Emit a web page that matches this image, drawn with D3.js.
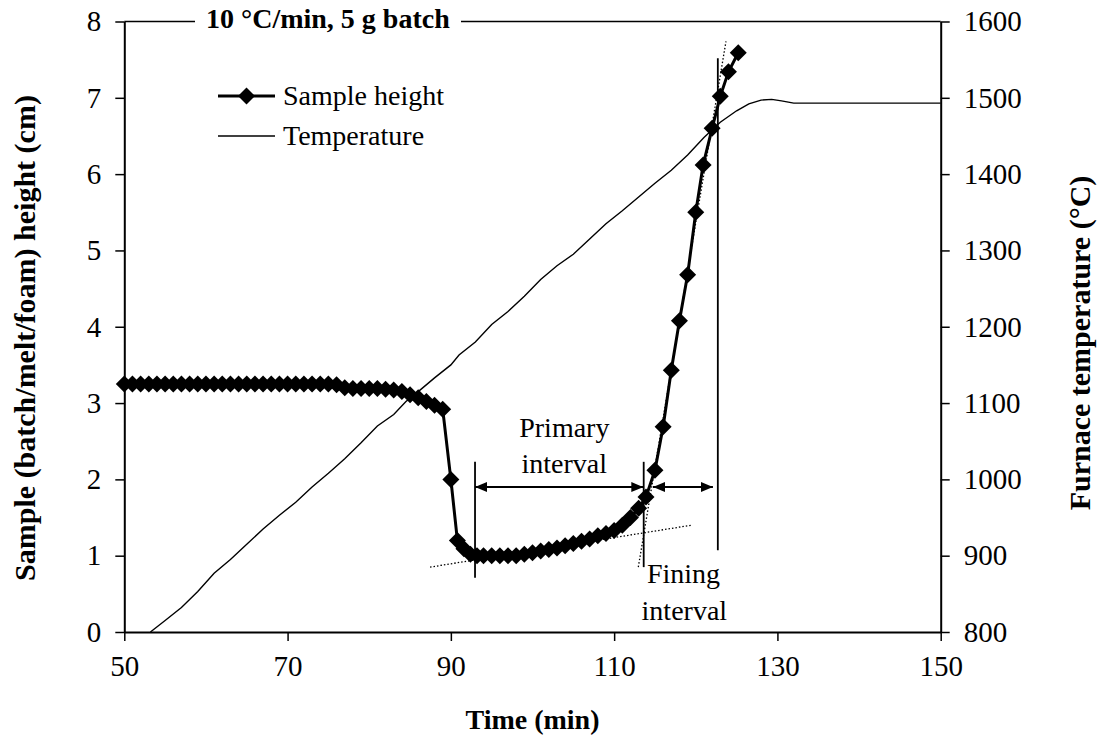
<!DOCTYPE html>
<html><head><meta charset="utf-8">
<script src="https://cdn.jsdelivr.net/npm/d3@7"></script>
<style>
body{margin:0;background:#fff}
svg{display:block}
svg text{font-family:'Times New Roman','Liberation Serif','DejaVu Serif',serif !important;fill:#000}
</style>
</head><body>
<svg id="c" width="1104" height="751"></svg>
<script>
// ---- data ----
const xTicks = [50, 70, 90, 110, 130, 150];
const leftTicks = [0, 1, 2, 3, 4, 5, 6, 7, 8];
const rightTicks = [800, 900, 1000, 1100, 1200, 1300, 1400, 1500, 1600];

const heightTime = [50,51,52,53,54,55,56,57,58,59,60,61,62,63,64,65,66,67,68,69,70,71,72,73,74,75,76,
  77,78,79,80,81,82,83,84,85,86,87,88,89,90,90.8,91.6,92.4,93.2,94,95,96,97,98,99,100,101,102,103,104,105,
  106,107,108,109,110,111,112,113,113.9,115,116,117,118,119,120,120.9,122,123,124,125.2];
const heightValue = [3.25,3.25,3.25,3.25,3.25,3.25,3.25,3.25,3.25,3.25,3.25,3.25,3.25,3.25,3.25,3.25,3.25,3.25,3.25,3.25,3.25,3.25,3.25,3.25,3.25,3.25,3.24,
  3.2,3.19,3.19,3.19,3.19,3.18,3.17,3.15,3.11,3.07,3.02,2.97,2.92,2.0,1.2,1.09,1.02,1.0,1.0,1.0,1.0,1.0,1.0,1.02,1.04,1.06,1.08,1.1,1.13,1.16,
  1.19,1.22,1.26,1.29,1.33,1.4,1.5,1.62,1.77,2.12,2.69,3.43,4.08,4.68,5.5,6.12,6.6,7.02,7.34,7.59];

const tempTime = [53.2,55,57,59,61,63,65,67,69,71,73,75,77,79,81,83,84.5,86,88,90,91,93,95,97,99,101,103,105,107,109,111,113,115,117,119,121,123,125,126.5,128,129.3,130.5,132,150];
const tempValue = [800,815,832,853,877,895,915,935,953,970,990,1008,1027,1048,1070,1085,1102,1115,1133,1150,1163,1180,1203,1220,1240,1262,1280,1295,1315,1335,1352,1370,1388,1405,1425,1448,1468,1483,1492,1497,1498,1496,1493,1493];

// annotations (data units: time, height)
const vLines = [[92.96, 0.71, 2.23], [113.62, 0.85, 2.23], [122.7, 1.07, 7.52]];
const arrows = [[92.96, 113.57, 1.9], [114.76, 122.1, 1.9]];
const tangents = [[87.45, 0.85, 119.5, 1.40], [112.96, 0.85, 123.7, 7.74]];
const notes = [["Primary", 103.9, 2.55], ["interval", 103.9, 2.08], ["Fining", 118.5, 0.64], ["interval", 118.6, 0.16]];
const titleText = "10 °C/min, 5 g batch";
const legendLabels = ["Sample height", "Temperature"];

// ---- chart ----
const FONT = "'Times New Roman','Liberation Serif','DejaVu Serif',serif";
const svg = d3.select("#c");
const L = 124.3, R = 940.7, T = 21.5, B = 632;
const x = d3.scaleLinear().domain([50, 150]).range([L, R]);
const yL = d3.scaleLinear().domain([0, 8]).range([B, T]);
const yR = d3.scaleLinear().domain([800, 1600]).range([B, T]);

function styleAxis(g) {
  g.attr("font-family", FONT).attr("font-size", 29);
  g.select(".domain").attr("stroke", "#000").attr("stroke-width", 2);
  g.selectAll(".tick line").attr("stroke", "#000").attr("stroke-width", 1.5);
  g.selectAll(".tick text").attr("font-size", 29).style("font-family", FONT).attr("fill", "#000");
}

// top border
svg.append("line").attr("x1", L).attr("x2", R).attr("y1", T).attr("y2", T)
  .attr("stroke", "#000").attr("stroke-width", 1.5);

svg.append("g").attr("transform", `translate(0,${B})`)
  .call(d3.axisBottom(x).tickValues(xTicks).tickFormat(d3.format("d")).tickSize(9).tickSizeOuter(0).tickPadding(14))
  .call(styleAxis);
svg.append("g").attr("transform", `translate(${L},0)`)
  .call(d3.axisLeft(yL).tickValues(leftTicks).tickFormat(d3.format("d")).tickSize(9).tickSizeOuter(0).tickPadding(14))
  .call(styleAxis);
svg.append("g").attr("transform", `translate(${R},0)`)
  .call(d3.axisRight(yR).tickValues(rightTicks).tickFormat(d3.format("d")).tickSize(9).tickSizeOuter(0).tickPadding(14))
  .call(styleAxis);

// temperature line
const tempData = tempTime.map((t, i) => [t, tempValue[i]]);
svg.append("path").datum(tempData)
  .attr("fill", "none").attr("stroke", "#000").attr("stroke-width", 1.4)
  .attr("d", d3.line().x(d => x(d[0])).y(d => yR(d[1])));

// tangents (dotted)
svg.selectAll(".tan").data(tangents).join("line")
  .attr("x1", d => x(d[0])).attr("y1", d => yL(d[1]))
  .attr("x2", d => x(d[2])).attr("y2", d => yL(d[3]))
  .attr("stroke", "#000").attr("stroke-width", 1.3).attr("stroke-dasharray", "1.5,2");

// vertical annotation lines
svg.selectAll(".vl").data(vLines).join("line")
  .attr("x1", d => x(d[0])).attr("x2", d => x(d[0]))
  .attr("y1", d => yL(d[1])).attr("y2", d => yL(d[2]))
  .attr("stroke", "#000").attr("stroke-width", 1.8);

// sample height line + diamonds
const hData = heightTime.map((t, i) => [t, heightValue[i]]);
svg.append("path").datum(hData)
  .attr("fill", "none").attr("stroke", "#000").attr("stroke-width", 3).attr("stroke-linejoin", "round")
  .attr("d", d3.line().x(d => x(d[0])).y(d => yL(d[1])));
const r = 8.5;
const diamond = `M0,${-r}L${r},0L0,${r}L${-r},0Z`;
svg.selectAll(".dm").data(hData).join("path")
  .attr("d", diamond).attr("fill", "#000")
  .attr("transform", d => `translate(${x(d[0])},${yL(d[1])})`);

// arrows
const defs = svg.append("defs");
defs.append("marker").attr("id", "ah").attr("viewBox", "0 0 12 10").attr("refX", 12).attr("refY", 5)
  .attr("markerUnits", "userSpaceOnUse").attr("markerWidth", 12).attr("markerHeight", 10)
  .attr("orient", "auto-start-reverse")
  .append("path").attr("d", "M0,0L12,5L0,10Z").attr("fill", "#000");
svg.selectAll(".ar").data(arrows).join("line")
  .attr("x1", d => x(d[0])).attr("x2", d => x(d[1]))
  .attr("y1", d => yL(d[2])).attr("y2", d => yL(d[2]))
  .attr("stroke", "#000").attr("stroke-width", 2)
  .attr("marker-start", "url(#ah)").attr("marker-end", "url(#ah)");

// notes
svg.selectAll(".nt").data(notes).join("text")
  .attr("x", d => x(d[1])).attr("y", d => yL(d[2]))
  .attr("text-anchor", "middle").attr("font-size", 28).style("font-family", FONT).text(d => d[0]);

// title (breaking top border)
svg.append("rect").attr("x", 195).attr("y", T - 14).attr("width", 266).attr("height", 24).attr("fill", "#fff");
svg.append("text").attr("x", 206).attr("y", 28).attr("font-size", 28).attr("font-weight", "bold")
  .style("font-family", FONT).text(titleText);

// legend
svg.append("line").attr("x1", 218).attr("x2", 275).attr("y1", 96).attr("y2", 96).attr("stroke", "#000").attr("stroke-width", 3);
svg.append("path").attr("d", diamond).attr("fill", "#000").attr("transform", "translate(246.5,96)");
svg.append("text").attr("x", 283).attr("y", 105).attr("font-size", 28).style("font-family", FONT).text(legendLabels[0]);
svg.append("line").attr("x1", 218).attr("x2", 275).attr("y1", 136).attr("y2", 136).attr("stroke", "#000").attr("stroke-width", 1.4);
svg.append("text").attr("x", 283).attr("y", 145).attr("font-size", 28).style("font-family", FONT).text(legendLabels[1]);

// axis titles
svg.append("text").attr("x", (L + R) / 2).attr("y", 729).attr("text-anchor", "middle")
  .attr("font-size", 28).attr("font-weight", "bold").style("font-family", FONT).text("Time (min)");
svg.append("text").attr("transform", "translate(35,338) rotate(-90)").attr("text-anchor", "middle")
  .attr("font-size", 30).attr("font-weight", "bold").style("font-family", FONT).text("Sample (batch/melt/foam) height (cm)");
svg.append("text").attr("transform", "translate(1090,343) rotate(-90)").attr("text-anchor", "middle")
  .attr("font-size", 30).attr("font-weight", "bold").style("font-family", FONT).text("Furnace temperature (°C)");
</script>
</body></html>
